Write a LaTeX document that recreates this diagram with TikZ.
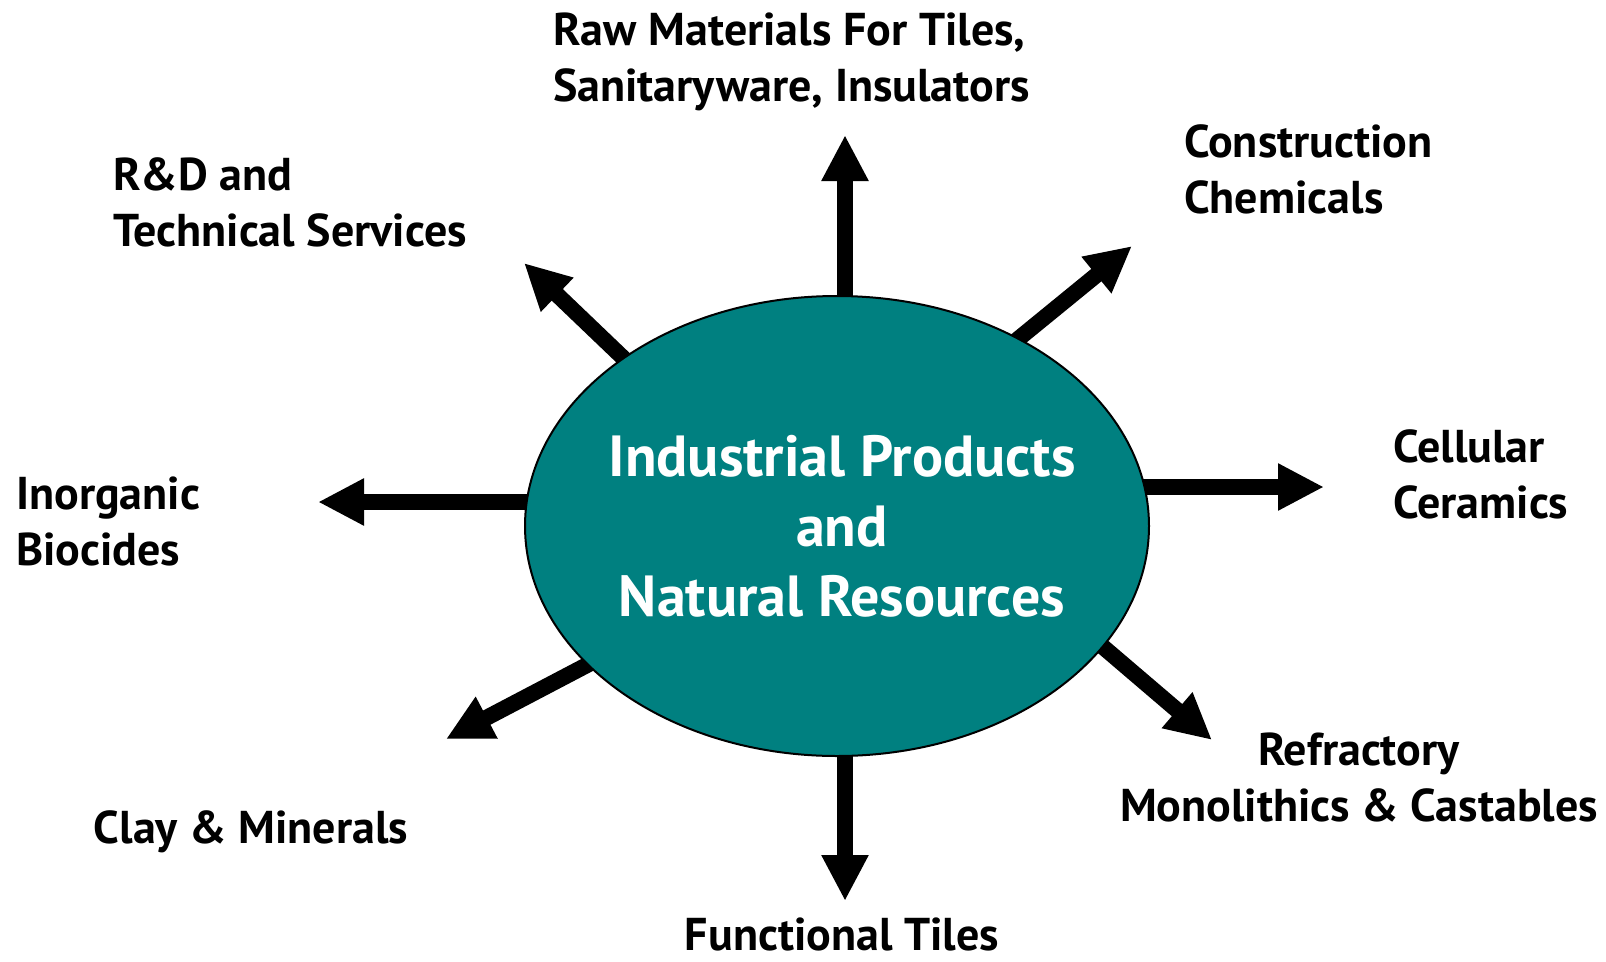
\documentclass[tikz,border=0pt]{standalone}
\usepackage{fontspec}
\setmainfont{PT Sans}
\usepackage{xcolor}
\usetikzlibrary{shapes.geometric, positioning, arrows.meta, backgrounds}
\definecolor{hubteal}{RGB}{0,128,128}
\newcommand{\labfont}{\fontsize{46}{56}\selectfont\bfseries}
\newcommand{\hubfont}{\fontsize{58}{70}\selectfont\bfseries}

\begin{document}
\begin{tikzpicture}[
    x = 1pt, y = -1pt,
    hub/.style = {ellipse, draw, line width = 2pt, fill = hubteal, inner sep = 0pt,
                  minimum width = 624pt, minimum height = 460pt},
    hubtext/.style = {text = white, align = center, inner sep = 0pt, font = \hubfont},
    label/.style = {align = left, inner sep = 0pt, font = \labfont},
    spoke/.style = {line width = 16pt, arrows = {-Triangle[width = 44pt, length = 46pt]}},
    ]
    \useasboundingbox (0,0) rectangle (1606,961);

    \node [hub] (hub) at (837,526) {};
    \node [hubtext, xshift = 5pt] (hubtxt) at (hub.center) {Industrial Products\\[0pt]and\\Natural Resources};

    % labels round the hub
    \node [label, anchor = north west] (raw)     at (553,13)  {Raw Materials For Tiles,\\Sanitaryware, Insulators};
    \node [label, anchor = west]       (constr)  at (1184,169) {Construction\\Chemicals};
    \node [label, anchor = west]       (rnd)     at (113,202) {R\&D and\\Technical Services};
    \node [label, anchor = west]       (bio)     at (16,521)  {Inorganic\\Biocides};
    \node [label, anchor = west]       (cell)    at (1393,474) {Cellular\\Ceramics};
    \node [label, align = center]      (refr)    at (1359,777) {Refractory\\Monolithics \& Castables};
    \node [label]                      (clay)    at (251,832) {Clay \& Minerals};
    \node [label]                      (func)    at (842,934) {Functional Tiles};

    % arrow tips and starts
    \coordinate (upS) at (845,330);   \coordinate (upT) at (845,135);
    \coordinate (dnS) at (845,720);   \coordinate (dnT) at (845,901);
    \coordinate (rtS) at (1100,487);  \coordinate (rtT) at (1324,487);
    \coordinate (ltS) at (560,502);   \coordinate (ltT) at (318,502);
    \coordinate (ulS) at (663,396);   \coordinate (ulT) at (524,263);
    \coordinate (urS) at (979,371);   \coordinate (urT) at (1132,246);
    \coordinate (llS) at (629,643);   \coordinate (llT) at (446,739);
    \coordinate (lrS) at (1061,611);  \coordinate (lrT) at (1212,740);

    % draw spokes behind the hub
    \begin{scope}[on background layer]
        \foreach \s in {up, dn, rt, lt, ul, ur, ll, lr}
            \draw [spoke] (\s S) -- (\s T);
    \end{scope}
\end{tikzpicture}
\end{document}
